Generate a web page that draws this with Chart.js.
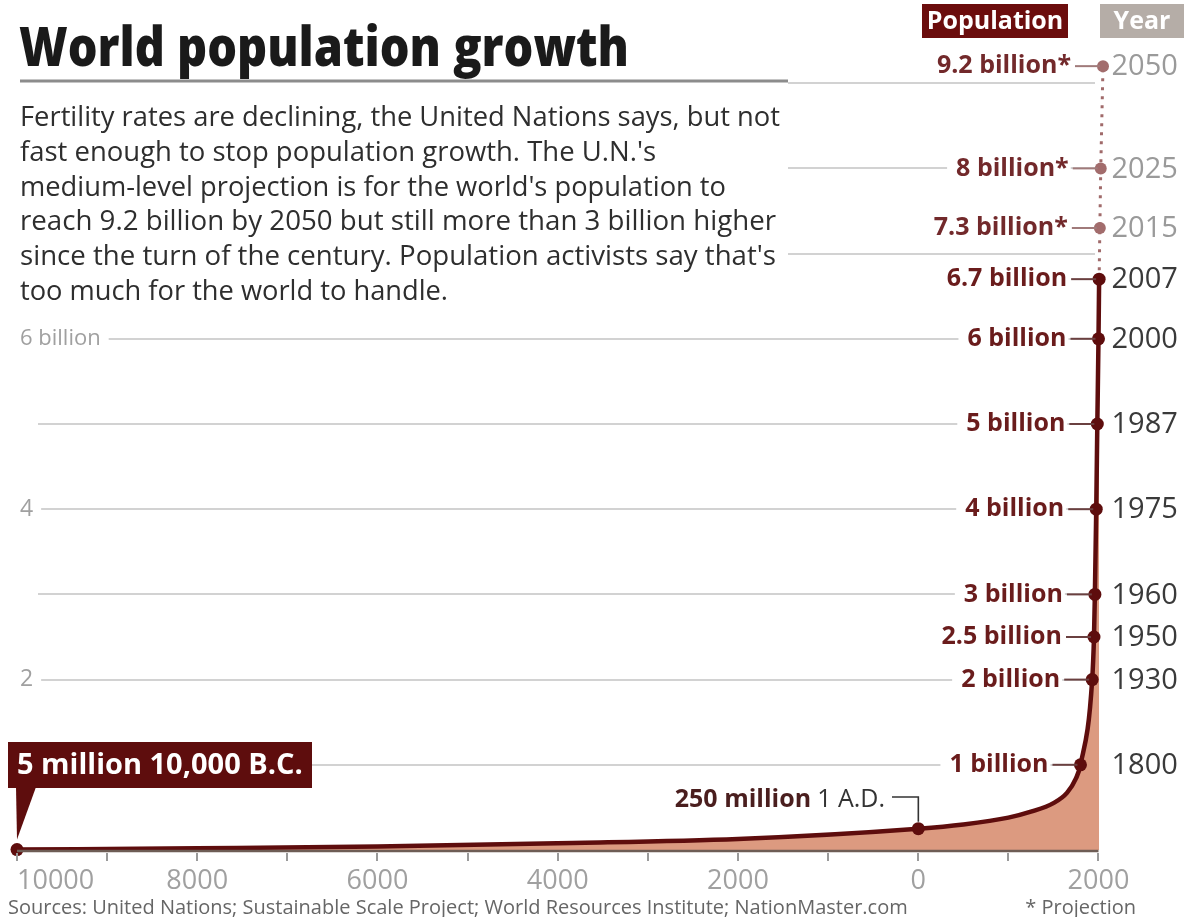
<!DOCTYPE html>
<html>
<head>
<meta charset="utf-8">
<script src="https://cdn.jsdelivr.net/npm/chart.js@4.4.1/dist/chart.umd.min.js"></script>
<style>
  html, body { margin: 0; padding: 0; background: #fff; overflow: hidden; }
  canvas { display: block; }
</style>
</head>
<body>
<canvas id="popChart" width="1188" height="917"></canvas>
<script>
// world population, billions
const histYears = [-10000, -8000, -6000, -4000, -2000, 1, 500, 1000, 1250, 1500, 1650, 1750, 1800, 1930, 1950, 1960, 1975, 1987, 2000, 2007];
const histPop = [0.005, 0.02, 0.04, 0.08, 0.13, 0.25, 0.3, 0.38, 0.45, 0.55, 0.67, 0.84, 1, 2, 2.5, 3, 4, 5, 6, 6.7];
const markedYears = [-10000, 1, 1800, 1930, 1950, 1960, 1975, 1987, 2000, 2007];

// U.N. medium projection
const projYears = [2007, 2015, 2025, 2050];
const projPop = [6.7, 7.3, 8, 9.2];
const projLabels = ['', '7.3 billion*', '8 billion*', '9.2 billion*'];

const milestoneYears = [1800, 1930, 1950, 1960, 1975, 1987, 2000, 2007];
const milestoneLabels = ['1 billion', '2 billion', '2.5 billion', '3 billion', '4 billion', '5 billion', '6 billion', '6.7 billion'];

const xTickLabels = [-10000, -8000, -6000, -4000, -2000, 0, 2000];
const gridValues = [1, 2, 3, 4, 5, 6, 7, 8, 9];
const yLabelValues = [6, 4, 2];
const yLabelTexts = ['6 billion', '4', '2'];

const description = [
  "Fertility rates are declining, the United Nations says, but not",
  "fast enough to stop population growth. The U.N.'s",
  "medium-level projection is for the world's population to",
  "reach 9.2 billion by 2050 but still more than 3 billion higher",
  "since the turn of the century. Population activists say that's",
  "too much for the world to handle."
];
const descWidths = [760, 636, 706, 756, 756, 428];

const MAROON = '#5e0d0d';
const LABEL = '#6a1c1c';
const FONT = '"Open Sans", "DejaVu Sans", sans-serif';

function txt(c, s, x, y, font, color, align, maxW) {
  c.font = font;
  c.fillStyle = color;
  c.textAlign = align || 'left';
  if (maxW) c.fillText(s, x, y, maxW); else c.fillText(s, x, y);
}

const decor = {
  id: 'decor',
  beforeDraw(chart) {
    const c = chart.ctx;
    c.save();
    c.fillStyle = '#fff';
    c.fillRect(0, 0, chart.width, chart.height);
    c.restore();
  },
  beforeDatasetsDraw(chart) {
    const c = chart.ctx, y = chart.scales.y, a = chart.chartArea;
    c.save();
    c.strokeStyle = '#d2d2d2';
    c.lineWidth = 2;
    gridValues.forEach(v => {
      const py = Math.round(y.getPixelForValue(v));
      let start = 38;
      const k = yLabelValues.indexOf(v);
      if (k >= 0) {
        c.font = (k === 0 ? '22px ' : '23px ') + FONT;
        start = 20 + c.measureText(yLabelTexts[k]).width + 8;
      }
      c.beginPath();
      c.moveTo(start, py);
      c.lineTo(a.right - 8, py);
      c.stroke();
    });
    // panel behind title + description
    c.fillStyle = '#fff';
    c.fillRect(0, 0, 788, 305);
    c.restore();
  },
  afterDatasetsDraw(chart) {
    const c = chart.ctx, x = chart.scales.x, y = chart.scales.y, a = chart.chartArea;
    c.save();
    c.textBaseline = 'middle';
    const base = y.getPixelForValue(0);
    const xEnd = x.getPixelForValue(2000);

    // axis base + ticks
    c.strokeStyle = '#6e5d55';
    c.lineWidth = 2.5;
    c.beginPath(); c.moveTo(a.left, base + 1); c.lineTo(xEnd, base + 1); c.stroke();
    c.strokeStyle = '#9a9a9a';
    c.lineWidth = 2;
    for (let t = -10000; t <= 2000; t += 1000) {
      const px = Math.round(x.getPixelForValue(t));
      c.beginPath(); c.moveTo(px, base + 3); c.lineTo(px, base + 11); c.stroke();
    }
    xTickLabels.forEach((t, i) => {
      txt(c, String(Math.abs(t)), x.getPixelForValue(t), 881, '27px ' + FONT, '#a0a0a0', i === 0 ? 'left' : 'center');
    });

    // left value labels
    yLabelValues.forEach((v, i) => {
      txt(c, yLabelTexts[i], 20, y.getPixelForValue(v), (i === 0 ? '22px ' : '23px ') + FONT, '#a0a0a0');
    });

    // milestone labels
    const yearX = xEnd + 13;
    function milestone(year, pop, label, col, yearCol, tickCol) {
      const px = x.getPixelForValue(year), py = y.getPixelForValue(pop);
      c.font = 'bold 25px ' + FONT;
      const w = c.measureText(label).width;
      const right = px - 32;
      c.fillStyle = '#fff';
      c.fillRect(right - w - 9, py - 15, w + 11, 30);
      txt(c, label, right, py, 'bold 25px ' + FONT, col, 'right');
      c.strokeStyle = tickCol;
      c.lineWidth = 2;
      c.beginPath(); c.moveTo(right + 4, py); c.lineTo(px - 3, py); c.stroke();
      txt(c, String(year), yearX, py + 1, '29px ' + FONT, yearCol);
    }
    milestoneYears.forEach((yr, i) => {
      milestone(yr, histPop[histYears.indexOf(yr)], milestoneLabels[i], LABEL, '#3a3a3a', '#6a4040');
    });
    projYears.forEach((yr, i) => {
      if (!projLabels[i]) return;
      milestone(yr, projPop[i], projLabels[i], '#72292b', '#9a9a9a', '#a07a7a');
    });

    // header boxes
    c.fillStyle = '#6b0d0d';
    c.fillRect(922, 4, 146, 34);
    txt(c, 'Population', 995, 22, 'bold 25px ' + FONT, '#fff', 'center', 140);
    c.fillStyle = '#b5ada7';
    c.fillRect(1100, 4, 84, 34);
    txt(c, 'Year', 1142, 22, 'bold 25px ' + FONT, '#fff', 'center');

    // 10,000 B.C. callout
    const p0x = x.getPixelForValue(histYears[0]), p0y = y.getPixelForValue(histPop[0]);
    c.fillStyle = MAROON;
    c.fillRect(8, 742, 304, 46);
    c.beginPath();
    c.moveTo(p0x - 1, 787); c.lineTo(p0x + 19, 787); c.lineTo(p0x, p0y - 10); c.closePath();
    c.fill();
    txt(c, '5 million 10,000 B.C.', 17, 766, 'bold 29px ' + FONT, '#fff', 'left', 286);

    // 1 A.D. callout
    const p1x = x.getPixelForValue(1), p1y = y.getPixelForValue(histPop[histYears.indexOf(1)]);
    c.font = '25px ' + FONT;
    const wAD = c.measureText('1 A.D.').width;
    txt(c, '1 A.D.', 885, 800, '25px ' + FONT, '#333', 'right');
    txt(c, '250 million', 885 - wAD - 6, 800, 'bold 25px ' + FONT, '#4a1e1e', 'right');
    c.strokeStyle = '#333';
    c.lineWidth = 1.6;
    c.beginPath(); c.moveTo(892, 797); c.lineTo(p1x, 797); c.lineTo(p1x, p1y - 7); c.stroke();

    // title block
    c.textBaseline = 'alphabetic';
    txt(c, 'World population growth', 19, 66, '800 54px ' + FONT, '#1a1a1a', 'left', 610);
    c.strokeStyle = '#8c8c8c';
    c.lineWidth = 3;
    c.beginPath(); c.moveTo(20, 81); c.lineTo(788, 81); c.stroke();
    description.forEach((line, i) => {
      txt(c, line, 20, 126 + i * 34.8, '28px ' + FONT, '#2e2e2e', 'left', descWidths[i]);
    });

    // footer
    txt(c, 'Sources: United Nations; Sustainable Scale Project; World Resources Institute; NationMaster.com', 8, 914, '20px ' + FONT, '#666', 'left', 910);
    txt(c, '* Projection', 1136, 914, '20px ' + FONT, '#666', 'right');
    c.restore();
  }
};

const histData = histYears.map((yr, i) => ({ x: yr, y: histPop[i] }));
const projData = projYears.map((yr, i) => ({ x: yr, y: projPop[i] }));

new Chart(document.getElementById('popChart').getContext('2d'), {
  type: 'line',
  data: {
    datasets: [
      {
        label: 'Population',
        data: histData,
        borderColor: MAROON,
        borderWidth: 4.5,
        backgroundColor: '#dc9a80',
        fill: 'origin',
        cubicInterpolationMode: 'monotone',
        pointRadius: histYears.map(yr => markedYears.indexOf(yr) >= 0 ? 6.5 : 0),
        pointBackgroundColor: MAROON,
        pointBorderWidth: 0,
        clip: false
      },
      {
        label: 'Projection',
        data: projData,
        borderColor: '#a06a6a',
        borderWidth: 3,
        borderDash: [3, 6],
        fill: false,
        pointRadius: projYears.map((yr, i) => i === 0 ? 0 : 6),
        pointBackgroundColor: '#a26c6c',
        pointBorderWidth: 0,
        clip: false
      }
    ]
  },
  options: {
    responsive: false,
    animation: false,
    devicePixelRatio: 1,
    layout: { padding: { left: 17, right: 85, top: 0, bottom: 67 } },
    scales: {
      x: { type: 'linear', min: -10000, max: 2050, display: false },
      y: { type: 'linear', min: 0, max: 9.9, display: false }
    },
    plugins: {
      legend: { display: false },
      tooltip: { enabled: false }
    }
  },
  plugins: [decor]
});
</script>
</body>
</html>
